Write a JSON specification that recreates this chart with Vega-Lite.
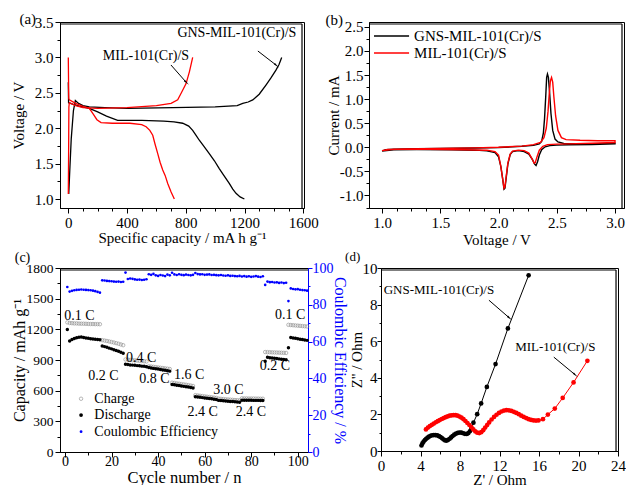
{
"$schema":"https://vega.github.io/schema/vega-lite/v6.json",
"padding":{"left":10,"top":11,"right":0,"bottom":0},
"config":{"font":"Liberation Serif","view":{"stroke":"#000","strokeWidth":1},
"axis":{"grid":false,"domainColor":"#000","tickColor":"#000","labelColor":"#000","titleColor":"#000","labelFont":"Liberation Serif","titleFont":"Liberation Serif","titleFontWeight":"normal","labelFontSize":15,"titleFontSize":15,"labelPadding":2,"labelFlush":false,"labelOverlap":false,"tickSize":5},
"text":{"font":"Liberation Serif"}},
"datasets":{
"a_cur":[
{"s":"GNS","g":"gd","x":0,"y":2.65},{"s":"GNS","g":"gd","x":2,"y":2.36},{"s":"GNS","g":"gd","x":30,"y":2.34},{"s":"GNS","g":"gd","x":80,"y":2.31},{"s":"GNS","g":"gd","x":143,"y":2.28},{"s":"GNS","g":"gd","x":200,"y":2.23},{"s":"GNS","g":"gd","x":260,"y":2.17},{"s":"GNS","g":"gd","x":336,"y":2.11},{"s":"GNS","g":"gd","x":500,"y":2.11},{"s":"GNS","g":"gd","x":650,"y":2.1},{"s":"GNS","g":"gd","x":720,"y":2.09},{"s":"GNS","g":"gd","x":779,"y":2.07},{"s":"GNS","g":"gd","x":820,"y":2.03},{"s":"GNS","g":"gd","x":847,"y":1.97},{"s":"GNS","g":"gd","x":870,"y":1.9},{"s":"GNS","g":"gd","x":892,"y":1.83},{"s":"GNS","g":"gd","x":925,"y":1.74},{"s":"GNS","g":"gd","x":960,"y":1.64},{"s":"GNS","g":"gd","x":995,"y":1.54},{"s":"GNS","g":"gd","x":1028,"y":1.43},{"s":"GNS","g":"gd","x":1060,"y":1.33},{"s":"GNS","g":"gd","x":1096,"y":1.22},{"s":"GNS","g":"gd","x":1120,"y":1.14},{"s":"GNS","g":"gd","x":1142,"y":1.08},{"s":"GNS","g":"gd","x":1170,"y":1.03},{"s":"GNS","g":"gd","x":1199,"y":1.0},
{"s":"GNS","g":"gc","x":3,"y":1.07},{"s":"GNS","g":"gc","x":10,"y":1.4},{"s":"GNS","g":"gc","x":20,"y":1.85},{"s":"GNS","g":"gc","x":35,"y":2.25},{"s":"GNS","g":"gc","x":48,"y":2.39},{"s":"GNS","g":"gc","x":70,"y":2.35},{"s":"GNS","g":"gc","x":100,"y":2.32},{"s":"GNS","g":"gc","x":143,"y":2.3},{"s":"GNS","g":"gc","x":250,"y":2.29},{"s":"GNS","g":"gc","x":400,"y":2.28},{"s":"GNS","g":"gc","x":711,"y":2.29},{"s":"GNS","g":"gc","x":1000,"y":2.3},{"s":"GNS","g":"gc","x":1150,"y":2.32},{"s":"GNS","g":"gc","x":1188,"y":2.35},{"s":"GNS","g":"gc","x":1225,"y":2.37},{"s":"GNS","g":"gc","x":1256,"y":2.4},{"s":"GNS","g":"gc","x":1300,"y":2.48},{"s":"GNS","g":"gc","x":1346,"y":2.61},{"s":"GNS","g":"gc","x":1380,"y":2.71},{"s":"GNS","g":"gc","x":1414,"y":2.82},{"s":"GNS","g":"gc","x":1435,"y":2.9},{"s":"GNS","g":"gc","x":1453,"y":3.0},
{"s":"MIL","g":"md","x":0,"y":3.0},{"s":"MIL","g":"md","x":3,"y":2.42},{"s":"MIL","g":"md","x":7,"y":2.4},{"s":"MIL","g":"md","x":50,"y":2.35},{"s":"MIL","g":"md","x":100,"y":2.31},{"s":"MIL","g":"md","x":143,"y":2.28},{"s":"MIL","g":"md","x":170,"y":2.2},{"s":"MIL","g":"md","x":195,"y":2.12},{"s":"MIL","g":"md","x":223,"y":2.08},{"s":"MIL","g":"md","x":300,"y":2.07},{"s":"MIL","g":"md","x":420,"y":2.07},{"s":"MIL","g":"md","x":500,"y":2.05},{"s":"MIL","g":"md","x":530,"y":2.02},{"s":"MIL","g":"md","x":555,"y":1.97},{"s":"MIL","g":"md","x":575,"y":1.9},{"s":"MIL","g":"md","x":590,"y":1.78},{"s":"MIL","g":"md","x":609,"y":1.64},{"s":"MIL","g":"md","x":625,"y":1.52},{"s":"MIL","g":"md","x":643,"y":1.41},{"s":"MIL","g":"md","x":660,"y":1.33},{"s":"MIL","g":"md","x":677,"y":1.22},{"s":"MIL","g":"md","x":700,"y":1.1},{"s":"MIL","g":"md","x":722,"y":1.0},
{"s":"MIL","g":"mc","x":0,"y":1.07},{"s":"MIL","g":"mc","x":2,"y":1.6},{"s":"MIL","g":"mc","x":4,"y":2.3},{"s":"MIL","g":"mc","x":7,"y":2.36},{"s":"MIL","g":"mc","x":50,"y":2.32},{"s":"MIL","g":"mc","x":100,"y":2.29},{"s":"MIL","g":"mc","x":200,"y":2.28},{"s":"MIL","g":"mc","x":400,"y":2.29},{"s":"MIL","g":"mc","x":600,"y":2.32},{"s":"MIL","g":"mc","x":700,"y":2.35},{"s":"MIL","g":"mc","x":745,"y":2.4},{"s":"MIL","g":"mc","x":770,"y":2.5},{"s":"MIL","g":"mc","x":802,"y":2.63},{"s":"MIL","g":"mc","x":825,"y":2.8},{"s":"MIL","g":"mc","x":847,"y":3.0}
],
"a_txt":[{"x":529,"y":3.02,"t":"MIL-101(Cr)/S"},{"x":1148,"y":3.345,"t":"GNS-MIL-101(Cr)/S"}],
"a_arr":[{"x":699,"y":2.893,"x2":801,"y2":2.653},{"x":1291,"y":3.09,"x2":1414,"y2":2.893}],
"a_lab":[{"x":-276,"y":3.548,"t":"(a)"}],
"a_frame":[{"x":-56.5,"x2":1591.4,"y":3.4718,"y2":3.4718},{"x":1591.4,"x2":1591.4,"y":0.873,"y2":3.4718}],
"b_cv":[
{"s":"GNS","x":1.0,"y":-0.08},{"s":"GNS","x":1.03,"y":-0.05},{"s":"GNS","x":1.1,"y":-0.04},{"s":"GNS","x":1.3,"y":-0.03},{"s":"GNS","x":1.5,"y":-0.025},{"s":"GNS","x":1.8,"y":-0.015},{"s":"GNS","x":2.0,"y":-0.005},{"s":"GNS","x":2.2,"y":0.02},{"s":"GNS","x":2.3,"y":0.04},{"s":"GNS","x":2.35,"y":0.07},{"s":"GNS","x":2.37,"y":0.12},{"s":"GNS","x":2.385,"y":0.3},{"s":"GNS","x":2.395,"y":0.6},{"s":"GNS","x":2.405,"y":1.05},{"s":"GNS","x":2.413,"y":1.45},{"s":"GNS","x":2.42,"y":1.52},{"s":"GNS","x":2.428,"y":1.45},{"s":"GNS","x":2.438,"y":1.15},{"s":"GNS","x":2.45,"y":0.7},{"s":"GNS","x":2.465,"y":0.35},{"s":"GNS","x":2.485,"y":0.17},{"s":"GNS","x":2.51,"y":0.11},{"s":"GNS","x":2.56,"y":0.08},{"s":"GNS","x":2.7,"y":0.075},{"s":"GNS","x":2.85,"y":0.075},{"s":"GNS","x":3.0,"y":0.085},
{"s":"GNS","x":3.0,"y":0.07},{"s":"GNS","x":2.8,"y":0.055},{"s":"GNS","x":2.6,"y":0.05},{"s":"GNS","x":2.5,"y":0.045},{"s":"GNS","x":2.44,"y":0.035},{"s":"GNS","x":2.4,"y":0.01},{"s":"GNS","x":2.37,"y":-0.05},{"s":"GNS","x":2.35,"y":-0.16},{"s":"GNS","x":2.335,"y":-0.3},{"s":"GNS","x":2.322,"y":-0.38},{"s":"GNS","x":2.31,"y":-0.35},{"s":"GNS","x":2.29,"y":-0.25},{"s":"GNS","x":2.26,"y":-0.14},{"s":"GNS","x":2.22,"y":-0.09},{"s":"GNS","x":2.17,"y":-0.07},{"s":"GNS","x":2.12,"y":-0.09},{"s":"GNS","x":2.1,"y":-0.15},{"s":"GNS","x":2.08,"y":-0.35},{"s":"GNS","x":2.065,"y":-0.65},{"s":"GNS","x":2.055,"y":-0.85},{"s":"GNS","x":2.047,"y":-0.87},{"s":"GNS","x":2.037,"y":-0.68},{"s":"GNS","x":2.02,"y":-0.4},{"s":"GNS","x":2.0,"y":-0.2},{"s":"GNS","x":1.97,"y":-0.11},{"s":"GNS","x":1.9,"y":-0.075},{"s":"GNS","x":1.8,"y":-0.06},{"s":"GNS","x":1.6,"y":-0.05},{"s":"GNS","x":1.3,"y":-0.045},{"s":"GNS","x":1.1,"y":-0.05},{"s":"GNS","x":1.0,"y":-0.08},
{"s":"MIL","x":1.0,"y":-0.07},{"s":"MIL","x":1.05,"y":-0.045},{"s":"MIL","x":1.2,"y":-0.035},{"s":"MIL","x":1.5,"y":-0.025},{"s":"MIL","x":1.8,"y":-0.012},{"s":"MIL","x":2.0,"y":0.0},{"s":"MIL","x":2.2,"y":0.025},{"s":"MIL","x":2.3,"y":0.055},{"s":"MIL","x":2.36,"y":0.1},{"s":"MIL","x":2.39,"y":0.2},{"s":"MIL","x":2.41,"y":0.4},{"s":"MIL","x":2.425,"y":0.75},{"s":"MIL","x":2.435,"y":1.1},{"s":"MIL","x":2.445,"y":1.38},{"s":"MIL","x":2.455,"y":1.45},{"s":"MIL","x":2.465,"y":1.35},{"s":"MIL","x":2.475,"y":1.05},{"s":"MIL","x":2.49,"y":0.65},{"s":"MIL","x":2.51,"y":0.35},{"s":"MIL","x":2.54,"y":0.2},{"s":"MIL","x":2.58,"y":0.16},{"s":"MIL","x":2.7,"y":0.145},{"s":"MIL","x":2.85,"y":0.135},{"s":"MIL","x":3.0,"y":0.135},
{"s":"MIL","x":3.0,"y":0.1},{"s":"MIL","x":2.8,"y":0.085},{"s":"MIL","x":2.6,"y":0.07},{"s":"MIL","x":2.5,"y":0.065},{"s":"MIL","x":2.42,"y":0.055},{"s":"MIL","x":2.38,"y":0.02},{"s":"MIL","x":2.35,"y":-0.06},{"s":"MIL","x":2.33,"y":-0.2},{"s":"MIL","x":2.315,"y":-0.32},{"s":"MIL","x":2.305,"y":-0.33},{"s":"MIL","x":2.29,"y":-0.25},{"s":"MIL","x":2.26,"y":-0.12},{"s":"MIL","x":2.22,"y":-0.07},{"s":"MIL","x":2.17,"y":-0.06},{"s":"MIL","x":2.12,"y":-0.08},{"s":"MIL","x":2.1,"y":-0.14},{"s":"MIL","x":2.08,"y":-0.33},{"s":"MIL","x":2.065,"y":-0.62},{"s":"MIL","x":2.055,"y":-0.82},{"s":"MIL","x":2.047,"y":-0.85},{"s":"MIL","x":2.037,"y":-0.68},{"s":"MIL","x":2.02,"y":-0.4},{"s":"MIL","x":2.0,"y":-0.16},{"s":"MIL","x":1.97,"y":-0.09},{"s":"MIL","x":1.9,"y":-0.06},{"s":"MIL","x":1.7,"y":-0.05},{"s":"MIL","x":1.4,"y":-0.04},{"s":"MIL","x":1.1,"y":-0.04},{"s":"MIL","x":1.0,"y":-0.07}
],
"b_leg":[{"s":"GNS","x":0.931,"x2":1.232,"y":2.31,"tx":1.275,"t":"GNS-MIL-101(Cr)/S"},{"s":"MIL","x":0.931,"x2":1.232,"y":1.957,"tx":1.275,"t":"MIL-101(Cr)/S"}],
"b_lab":[{"x":0.59,"y":2.64,"t":"(b)"}],
"b_frame":[{"x":0.888,"x2":3.0598,"y":2.5585,"y2":2.5585},{"x":3.0598,"x2":3.0598,"y":-1.26,"y2":2.5585}],
"c_cyc":[
{"n":1,"ch":1268,"dc":1198,"ce":89.7},{"n":2,"ch":1262,"dc":1085,"ce":87.2},{"n":3,"ch":1260,"dc":1100,"ce":87.6},{"n":4,"ch":1258,"dc":1110,"ce":87.9},{"n":5,"ch":1258,"dc":1118,"ce":88.1},{"n":6,"ch":1256,"dc":1122,"ce":88.2},{"n":7,"ch":1255,"dc":1124,"ce":88.3},{"n":8,"ch":1255,"dc":1120,"ce":88.2},{"n":9,"ch":1254,"dc":1116,"ce":88.1},{"n":10,"ch":1253,"dc":1112,"ce":88.0},{"n":11,"ch":1252,"dc":1108,"ce":87.9},{"n":12,"ch":1252,"dc":1106,"ce":87.7},{"n":13,"ch":1251,"dc":1104,"ce":87.4},{"n":14,"ch":1251,"dc":1101,"ce":87.0},{"n":15,"ch":1250,"dc":1098,"ce":86.6},
{"n":16,"ch":1094,"dc":1038,"ce":93.3},{"n":17,"ch":1090,"dc":1031,"ce":93.2},{"n":18,"ch":1086,"dc":1024,"ce":93.0},{"n":19,"ch":1081,"dc":1016,"ce":92.9},{"n":20,"ch":1076,"dc":1009,"ce":92.8},{"n":21,"ch":1071,"dc":1001,"ce":92.6},{"n":22,"ch":1065,"dc":993,"ce":92.5},{"n":23,"ch":1059,"dc":985,"ce":92.6},{"n":24,"ch":1052,"dc":976,"ce":92.4},{"n":25,"ch":1045,"dc":966,"ce":92.5},
{"n":26,"ch":905,"dc":858,"ce":97.5},{"n":27,"ch":903,"dc":855,"ce":94.0},{"n":28,"ch":901,"dc":852,"ce":94.3},{"n":29,"ch":899,"dc":850,"ce":94.1},{"n":30,"ch":897,"dc":848,"ce":93.8},{"n":31,"ch":895,"dc":845,"ce":93.6},{"n":32,"ch":892,"dc":843,"ce":93.7},{"n":33,"ch":890,"dc":840,"ce":93.5},{"n":34,"ch":888,"dc":838,"ce":93.6},{"n":35,"ch":886,"dc":835,"ce":93.9},
{"n":36,"ch":838,"dc":826,"ce":96.6},{"n":37,"ch":836,"dc":822,"ce":96.3},{"n":38,"ch":833,"dc":818,"ce":96.8},{"n":39,"ch":830,"dc":815,"ce":96.0},{"n":40,"ch":827,"dc":811,"ce":95.7},{"n":41,"ch":824,"dc":807,"ce":96.2},{"n":42,"ch":821,"dc":803,"ce":95.9},{"n":43,"ch":818,"dc":799,"ce":95.6},{"n":44,"ch":815,"dc":795,"ce":96.4},{"n":45,"ch":812,"dc":791,"ce":96.0},
{"n":46,"ch":678,"dc":660,"ce":97.4},{"n":47,"ch":675,"dc":657,"ce":96.5},{"n":48,"ch":671,"dc":653,"ce":96.2},{"n":49,"ch":668,"dc":650,"ce":96.6},{"n":50,"ch":664,"dc":646,"ce":96.3},{"n":51,"ch":661,"dc":642,"ce":96.1},{"n":52,"ch":658,"dc":639,"ce":96.4},{"n":53,"ch":654,"dc":635,"ce":96.2},{"n":54,"ch":650,"dc":631,"ce":96.0},{"n":55,"ch":646,"dc":627,"ce":96.3},
{"n":56,"ch":556,"dc":540,"ce":97.3},{"n":57,"ch":553,"dc":538,"ce":96.7},{"n":58,"ch":550,"dc":535,"ce":96.5},{"n":59,"ch":547,"dc":532,"ce":96.6},{"n":60,"ch":544,"dc":529,"ce":96.3},{"n":61,"ch":541,"dc":526,"ce":96.4},{"n":62,"ch":538,"dc":523,"ce":96.5},{"n":63,"ch":535,"dc":520,"ce":96.2},{"n":64,"ch":532,"dc":517,"ce":96.3},{"n":65,"ch":529,"dc":514,"ce":96.1},
{"n":66,"ch":522,"dc":505,"ce":96.0},{"n":67,"ch":520,"dc":503,"ce":96.2},{"n":68,"ch":518,"dc":501,"ce":95.9},{"n":69,"ch":516,"dc":499,"ce":95.8},{"n":70,"ch":514,"dc":497,"ce":96.0},{"n":71,"ch":512,"dc":495,"ce":95.7},{"n":72,"ch":510,"dc":493,"ce":95.8},{"n":73,"ch":508,"dc":491,"ce":95.6},{"n":74,"ch":507,"dc":489,"ce":95.5},{"n":75,"ch":505,"dc":487,"ce":95.7},
{"n":76,"ch":525,"dc":507,"ce":95.4},{"n":77,"ch":524,"dc":507,"ce":95.6},{"n":78,"ch":524,"dc":506,"ce":95.3},{"n":79,"ch":523,"dc":506,"ce":95.5},{"n":80,"ch":523,"dc":506,"ce":95.2},{"n":81,"ch":523,"dc":505,"ce":95.4},{"n":82,"ch":522,"dc":505,"ce":95.6},{"n":83,"ch":522,"dc":505,"ce":95.3},{"n":84,"ch":521,"dc":504,"ce":95.1},{"n":85,"ch":521,"dc":504,"ce":95.5},
{"n":86,"ch":978,"dc":888,"ce":90.8},{"n":87,"ch":977,"dc":926,"ce":92.6},{"n":88,"ch":976,"dc":923,"ce":92.3},{"n":89,"ch":975,"dc":920,"ce":92.4},{"n":90,"ch":974,"dc":917,"ce":92.1},{"n":91,"ch":973,"dc":914,"ce":92.2},{"n":92,"ch":972,"dc":911,"ce":91.9},{"n":93,"ch":971,"dc":908,"ce":92.1},{"n":94,"ch":970,"dc":905,"ce":91.8},{"n":95,"ch":969,"dc":902,"ce":92.0},
{"n":96,"ch":1244,"dc":1020,"ce":82.0},{"n":97,"ch":1242,"dc":1120,"ce":88.9},{"n":98,"ch":1240,"dc":1116,"ce":88.6},{"n":99,"ch":1238,"dc":1112,"ce":88.4},{"n":100,"ch":1236,"dc":1108,"ce":88.5},{"n":101,"ch":1234,"dc":1104,"ce":88.2},{"n":102,"ch":1232,"dc":1100,"ce":88.0},{"n":103,"ch":1230,"dc":1096,"ce":87.9},{"n":104,"ch":1228,"dc":1092,"ce":87.7}
],
"c_rate":[{"x":6.2,"y":1334,"t":"0.1 C"},{"x":16.5,"y":742,"t":"0.2 C"},{"x":32.7,"y":921,"t":"0.4 C"},{"x":38.4,"y":710,"t":"0.8 C"},{"x":53.4,"y":758,"t":"1.6 C"},{"x":70.2,"y":602,"t":"3.0 C"},{"x":59.2,"y":394,"t":"2.4 C"},{"x":79.9,"y":394,"t":"2.4 C"},{"x":90.2,"y":839,"t":"0.2 C"},{"x":96.7,"y":1344,"t":"0.1 C"}],
"c_legsym":[{"x":6.9,"y":521,"k":"c"},{"x":6.9,"y":361,"k":"d"},{"x":6.9,"y":199,"k":"e"}],
"c_legtxt":[{"x":12.6,"y":521,"t":"Charge"},{"x":12.6,"y":361,"t":"Discharge"},{"x":12.6,"y":199,"t":"Coulombic Efficiency"},{"x":-21.6,"y":1895,"t":"(c)"}],
"c_frame":[{"x":-2.15,"x2":104.4,"y":1780.4}],
"d_eis":[
{"s":"GNS","x":4.10,"y":0.30},{"s":"GNS","x":4.20,"y":0.42},{"s":"GNS","x":4.32,"y":0.52},{"s":"GNS","x":4.45,"y":0.60},{"s":"GNS","x":4.58,"y":0.67},{"s":"GNS","x":4.72,"y":0.73},{"s":"GNS","x":4.87,"y":0.79},{"s":"GNS","x":5.02,"y":0.83},{"s":"GNS","x":5.18,"y":0.86},{"s":"GNS","x":5.35,"y":0.87},{"s":"GNS","x":5.52,"y":0.87},{"s":"GNS","x":5.70,"y":0.85},{"s":"GNS","x":5.87,"y":0.81},{"s":"GNS","x":6.03,"y":0.76},{"s":"GNS","x":6.20,"y":0.69},{"s":"GNS","x":6.35,"y":0.63},{"s":"GNS","x":6.50,"y":0.58},{"s":"GNS","x":6.65,"y":0.57},{"s":"GNS","x":6.80,"y":0.61},{"s":"GNS","x":6.95,"y":0.67},{"s":"GNS","x":7.10,"y":0.74},{"s":"GNS","x":7.25,"y":0.82},{"s":"GNS","x":7.42,"y":0.89},{"s":"GNS","x":7.60,"y":0.95},{"s":"GNS","x":7.78,"y":0.99},{"s":"GNS","x":7.96,"y":1.01},{"s":"GNS","x":8.14,"y":1.00},{"s":"GNS","x":8.32,"y":0.97},{"s":"GNS","x":8.50,"y":0.94},{"s":"GNS","x":8.68,"y":0.93},{"s":"GNS","x":8.85,"y":0.98},{"s":"GNS","x":9.00,"y":1.08},{"s":"GNS","x":9.15,"y":1.25},{"s":"GNS","x":9.36,"y":1.55},{"s":"GNS","x":9.74,"y":2.01},{"s":"GNS","x":10.14,"y":2.6},{"s":"GNS","x":10.72,"y":3.5},{"s":"GNS","x":11.6,"y":4.75},{"s":"GNS","x":12.85,"y":6.7},{"s":"GNS","x":14.95,"y":9.6},
{"s":"MIL","x":4.55,"y":1.18},{"s":"MIL","x":4.75,"y":1.28},{"s":"MIL","x":4.95,"y":1.36},{"s":"MIL","x":5.15,"y":1.43},{"s":"MIL","x":5.35,"y":1.50},{"s":"MIL","x":5.55,"y":1.57},{"s":"MIL","x":5.75,"y":1.63},{"s":"MIL","x":5.95,"y":1.69},{"s":"MIL","x":6.15,"y":1.75},{"s":"MIL","x":6.35,"y":1.80},{"s":"MIL","x":6.55,"y":1.85},{"s":"MIL","x":6.75,"y":1.89},{"s":"MIL","x":6.95,"y":1.93},{"s":"MIL","x":7.15,"y":1.95},{"s":"MIL","x":7.35,"y":1.96},{"s":"MIL","x":7.55,"y":1.96},{"s":"MIL","x":7.75,"y":1.93},{"s":"MIL","x":7.95,"y":1.88},{"s":"MIL","x":8.15,"y":1.82},{"s":"MIL","x":8.35,"y":1.74},{"s":"MIL","x":8.55,"y":1.64},{"s":"MIL","x":8.75,"y":1.53},{"s":"MIL","x":8.95,"y":1.42},{"s":"MIL","x":9.15,"y":1.30},{"s":"MIL","x":9.35,"y":1.18},{"s":"MIL","x":9.55,"y":1.07},{"s":"MIL","x":9.75,"y":1.00},{"s":"MIL","x":9.95,"y":0.98},{"s":"MIL","x":10.15,"y":1.03},{"s":"MIL","x":10.35,"y":1.14},{"s":"MIL","x":10.55,"y":1.28},{"s":"MIL","x":10.75,"y":1.42},{"s":"MIL","x":10.95,"y":1.56},{"s":"MIL","x":11.2,"y":1.72},{"s":"MIL","x":11.45,"y":1.86},{"s":"MIL","x":11.7,"y":1.98},{"s":"MIL","x":11.95,"y":2.08},{"s":"MIL","x":12.2,"y":2.16},{"s":"MIL","x":12.45,"y":2.21},{"s":"MIL","x":12.7,"y":2.23},{"s":"MIL","x":12.95,"y":2.22},{"s":"MIL","x":13.2,"y":2.19},{"s":"MIL","x":13.45,"y":2.14},{"s":"MIL","x":13.7,"y":2.08},{"s":"MIL","x":13.95,"y":2.01},{"s":"MIL","x":14.2,"y":1.93},{"s":"MIL","x":14.45,"y":1.86},{"s":"MIL","x":14.7,"y":1.80},{"s":"MIL","x":14.95,"y":1.74},{"s":"MIL","x":15.2,"y":1.70},{"s":"MIL","x":15.45,"y":1.67},{"s":"MIL","x":15.7,"y":1.66},{"s":"MIL","x":15.95,"y":1.67},{"s":"MIL","x":16.4,"y":1.74},{"s":"MIL","x":16.9,"y":1.99},{"s":"MIL","x":17.6,"y":2.32},{"s":"MIL","x":18.4,"y":2.9},{"s":"MIL","x":19.5,"y":3.75},{"s":"MIL","x":20.9,"y":4.93}
],
"d_txt":[{"x":5.87,"y":8.79,"t":"GNS-MIL-101(Cr)/S"},{"x":17.65,"y":5.68,"t":"MIL-101(Cr)/S"},{"x":-2.87,"y":10.62,"t":"(d)"}],
"d_arr":[{"x":10.93,"y":8.24,"x2":12.96,"y2":7.29},{"x":17.5,"y":5.13,"x2":19.63,"y2":4.18}],
"d_frame":[{"x":0,"x2":23.8,"y":9.891,"y2":9.891},{"x":23.8,"x2":23.8,"y":0,"y2":9.891}]
},
"vconcat":[
{"hconcat":[
{"width":244,"height":186,
"layer":[
{"data":{"name":"a_cur"},"transform":[{"window":[{"op":"row_number","as":"i"}]}],
"mark":{"type":"line","strokeWidth":1.3},
"encoding":{
"x":{"field":"x","type":"quantitative","scale":{"domain":[-56.5,1605],"nice":false,"zero":false},
"axis":{"title":"Specific capacity / mA h g⁻¹","format":"d","tickCount":100,"values":[0,100,200,300,400,500,600,700,800,900,1000,1100,1200,1300,1400,1500,1600],"labelExpr":"datum.value % 400 === 0 ? datum.label : ''","labelFontSize":{"condition":{"test":"datum.value % 400 === 0","value":15},"value":0},"tickSize":{"condition":{"test":"datum.value % 400 === 0","value":5},"value":3},"titlePadding":0}},
"y":{"field":"y","type":"quantitative","scale":{"domain":[0.873,3.5],"nice":false,"zero":false},
"axis":{"title":"Voltage / V","format":".1f","tickCount":100,"values":[1,1.25,1.5,1.75,2,2.25,2.5,2.75,3,3.25,3.5],"labelExpr":"datum.value * 2 % 1 === 0 ? datum.label : ''","labelFontSize":{"condition":{"test":"datum.value * 2 % 1 === 0","value":15},"value":0},"tickSize":{"condition":{"test":"datum.value * 2 % 1 === 0","value":5},"value":3},"titlePadding":8}},
"color":{"field":"s","type":"nominal","scale":{"domain":["GNS","MIL"],"range":["#000000","#ff0000"]},"legend":null},
"detail":{"field":"g"},
"order":{"field":"i","type":"quantitative"}}},
{"data":{"name":"a_frame"},"mark":{"type":"rule","color":"#000","strokeWidth":1.2},"encoding":{"x":{"field":"x","type":"quantitative"},"y":{"field":"y","type":"quantitative"},"x2":{"field":"x2"},"y2":{"field":"y2"}}},
{"data":{"name":"a_txt"},"mark":{"type":"text","fontSize":14,"align":"center","baseline":"middle"},"encoding":{"x":{"field":"x","type":"quantitative"},"y":{"field":"y","type":"quantitative"},"text":{"field":"t"}}},
{"data":{"name":"a_arr"},"mark":{"type":"rule","color":"#000","strokeWidth":1},"encoding":{"x":{"field":"x","type":"quantitative"},"y":{"field":"y","type":"quantitative"},"x2":{"field":"x2"},"y2":{"field":"y2"}}},
{"data":{"name":"a_arr"},"mark":{"type":"point","shape":"wedge","filled":true,"color":"#000","opacity":1,"size":50,"angle":132},"encoding":{"x":{"field":"x2","type":"quantitative"},"y":{"field":"y2","type":"quantitative"}}},
{"data":{"name":"a_lab"},"mark":{"type":"text","fontSize":15,"align":"center","baseline":"middle"},"encoding":{"x":{"field":"x","type":"quantitative"},"y":{"field":"y","type":"quantitative"},"text":{"field":"t"}}}
]},
{"width":255,"height":186,
"layer":[
{"data":{"name":"b_cv"},"transform":[{"window":[{"op":"row_number","as":"i"}]}],
"mark":{"type":"line","strokeWidth":1.4},
"encoding":{
"x":{"field":"x","type":"quantitative","scale":{"domain":[0.888,3.077],"nice":false,"zero":false},
"axis":{"title":"Voltage / V","format":".1f","tickCount":100,"values":[1,1.125,1.25,1.375,1.5,1.625,1.75,1.875,2,2.125,2.25,2.375,2.5,2.625,2.75,2.875,3],"labelExpr":"datum.value * 2 % 1 === 0 ? datum.label : ''","labelFontSize":{"condition":{"test":"datum.value * 2 % 1 === 0","value":15},"value":0},"tickSize":{"condition":{"test":"datum.value * 2 % 1 === 0","value":5},"value":3},"titlePadding":2}},
"y":{"field":"y","type":"quantitative","scale":{"domain":[-1.26,2.6],"nice":false,"zero":false},
"axis":{"title":"Current / mA","format":".1f","tickCount":100,"labelPadding":1,"values":[-1.25,-1,-0.75,-0.5,-0.25,0,0.25,0.5,0.75,1,1.25,1.5,1.75,2,2.25,2.5],"labelExpr":"datum.value * 2 % 1 === 0 ? replace(datum.label, '−', '-') : ''","labelFontSize":{"condition":{"test":"datum.value * 2 % 1 === 0","value":15},"value":0},"tickSize":{"condition":{"test":"datum.value * 2 % 1 === 0","value":5},"value":3},"titlePadding":-2}},
"color":{"field":"s","type":"nominal","scale":{"domain":["GNS","MIL"],"range":["#000000","#ff0000"]},"legend":null},
"order":{"field":"i","type":"quantitative"}}},
{"data":{"name":"b_frame"},"mark":{"type":"rule","color":"#000","strokeWidth":1.2},"encoding":{"x":{"field":"x","type":"quantitative"},"y":{"field":"y","type":"quantitative"},"x2":{"field":"x2"},"y2":{"field":"y2"}}},
{"data":{"name":"b_leg"},"mark":{"type":"rule","strokeWidth":1.4},"encoding":{"x":{"field":"x","type":"quantitative"},"x2":{"field":"x2"},"y":{"field":"y","type":"quantitative"},"color":{"field":"s","type":"nominal","scale":{"domain":["GNS","MIL"],"range":["#000000","#ff0000"]},"legend":null}}},
{"data":{"name":"b_leg"},"mark":{"type":"text","fontSize":15,"align":"left","baseline":"middle","color":"#000"},"encoding":{"x":{"field":"tx","type":"quantitative"},"y":{"field":"y","type":"quantitative"},"text":{"field":"t"}}},
{"data":{"name":"b_lab"},"mark":{"type":"text","fontSize":15,"align":"center","baseline":"middle"},"encoding":{"x":{"field":"x","type":"quantitative"},"y":{"field":"y","type":"quantitative"},"text":{"field":"t"}}}
]}
],"spacing":65,"bounds":"flush"},
{"hconcat":[
{"width":248,"height":184,
"layer":[
{"layer":[
{"data":{"name":"c_cyc"},"mark":{"type":"point","shape":"circle","filled":false,"color":"#808080","size":12,"strokeWidth":0.8},
"encoding":{
"x":{"field":"n","type":"quantitative","scale":{"domain":[-2.15,104.4],"nice":false,"zero":false},
"axis":{"title":"Cycle number / n","titleFontSize":16.5,"format":"d","tickCount":100,"labelPadding":-3,"values":[0,10,20,30,40,50,60,70,80,90,100],"labelExpr":"datum.value % 20 === 0 ? datum.label : ''","labelFontSize":{"condition":{"test":"datum.value % 20 === 0","value":14},"value":0},"tickSize":{"condition":{"test":"datum.value % 20 === 0","value":5},"value":3},"titlePadding":1}},
"y":{"field":"ch","type":"quantitative","scale":{"domain":[0,1800],"nice":false,"zero":false},
"axis":{"title":"Capacity / mAh g⁻¹","titleFontSize":16,"format":"d","tickCount":100,"values":[0,150,300,450,600,750,900,1050,1200,1350,1500,1650,1800],"labelExpr":"datum.value % 300 === 0 ? datum.label : ''","labelFontSize":{"condition":{"test":"datum.value % 300 === 0","value":13.5},"value":0},"tickSize":{"condition":{"test":"datum.value % 300 === 0","value":5},"value":3},"titlePadding":-1}}}},
{"data":{"name":"c_frame"},"mark":{"type":"rule","color":"#000","strokeWidth":1.2},"encoding":{"x":{"field":"x","type":"quantitative"},"x2":{"field":"x2"},"y":{"field":"y","type":"quantitative"}}},
{"data":{"name":"c_cyc"},"mark":{"type":"point","shape":"circle","filled":true,"color":"#000","opacity":1,"size":12},
"encoding":{"x":{"field":"n","type":"quantitative"},"y":{"field":"dc","type":"quantitative"}}},
{"data":{"name":"c_rate"},"mark":{"type":"text","fontSize":14,"align":"center","baseline":"middle"},"encoding":{"x":{"field":"x","type":"quantitative"},"y":{"field":"y","type":"quantitative"},"text":{"field":"t"}}},
{"data":{"name":"c_legsym"},"transform":[{"filter":"datum.k === 'c'"}],"mark":{"type":"point","shape":"circle","filled":false,"color":"#808080","size":12,"strokeWidth":0.8},"encoding":{"x":{"field":"x","type":"quantitative"},"y":{"field":"y","type":"quantitative"}}},
{"data":{"name":"c_legsym"},"transform":[{"filter":"datum.k === 'd'"}],"mark":{"type":"point","shape":"circle","filled":true,"color":"#000","opacity":1,"size":14},"encoding":{"x":{"field":"x","type":"quantitative"},"y":{"field":"y","type":"quantitative"}}},
{"data":{"name":"c_legsym"},"transform":[{"filter":"datum.k === 'e'"}],"mark":{"type":"point","shape":"circle","filled":true,"color":"#0000ff","opacity":1,"size":8},"encoding":{"x":{"field":"x","type":"quantitative"},"y":{"field":"y","type":"quantitative"}}},
{"data":{"name":"c_legtxt"},"mark":{"type":"text","fontSize":14,"align":"left","baseline":"middle"},"encoding":{"x":{"field":"x","type":"quantitative"},"y":{"field":"y","type":"quantitative"},"text":{"field":"t"}}}
]},
{"data":{"name":"c_cyc"},"mark":{"type":"point","shape":"circle","filled":true,"color":"#0000ff","opacity":1,"size":7},
"encoding":{"x":{"field":"n","type":"quantitative"},
"y":{"field":"ce","type":"quantitative","scale":{"domain":[0,100],"nice":false,"zero":false},
"axis":{"orient":"right","title":"Coulombic Efficiency / %","titleFontSize":16,"format":"d","labelPadding":0,"tickCount":100,"domainColor":"#0000ff","tickColor":"#0000ff","labelColor":"#0000ff","titleColor":"#0000ff","values":[0,10,20,30,40,50,60,70,80,90,100],"labelExpr":"datum.value % 20 === 0 ? datum.label : ''","labelFontSize":{"condition":{"test":"datum.value % 20 === 0","value":14},"value":0},"tickSize":{"condition":{"test":"datum.value % 20 === 0","value":4},"value":2},"titlePadding":-2}}}}
],
"resolve":{"scale":{"y":"independent"}}},
{"width":237,"height":183,
"layer":[
{"data":{"name":"d_eis"},"mark":{"type":"line","strokeWidth":1,"point":{"filled":true,"size":22}},
"encoding":{
"x":{"field":"x","type":"quantitative","scale":{"domain":[0,24],"nice":false,"zero":false},
"axis":{"title":"Z' / Ohm","format":"d","tickCount":100,"values":[0,2,4,6,8,10,12,14,16,18,20,22,24],"labelExpr":"datum.value % 4 === 0 ? datum.label : ''","labelFontSize":{"condition":{"test":"datum.value % 4 === 0","value":15},"value":0},"tickSize":{"condition":{"test":"datum.value % 4 === 0","value":5},"value":3},"titlePadding":-1}},
"y":{"field":"y","type":"quantitative","scale":{"domain":[0,10],"nice":false,"zero":false},
"axis":{"title":"Z'' / Ohm","format":"d","labelPadding":0,"tickCount":100,"values":[0,1,2,3,4,5,6,7,8,9,10],"labelExpr":"datum.value % 2 === 0 ? datum.label : ''","labelFontSize":{"condition":{"test":"datum.value % 2 === 0","value":15},"value":0},"tickSize":{"condition":{"test":"datum.value % 2 === 0","value":4},"value":2},"titlePadding":-2}},
"color":{"field":"s","type":"nominal","scale":{"domain":["GNS","MIL"],"range":["#000000","#ff0000"]},"legend":null}}},
{"data":{"name":"d_frame"},"mark":{"type":"rule","color":"#000","strokeWidth":1.2},"encoding":{"x":{"field":"x","type":"quantitative"},"y":{"field":"y","type":"quantitative"},"x2":{"field":"x2"},"y2":{"field":"y2"}}},
{"data":{"name":"d_txt"},"mark":{"type":"text","fontSize":13,"align":"center","baseline":"middle"},"encoding":{"x":{"field":"x","type":"quantitative"},"y":{"field":"y","type":"quantitative"},"text":{"field":"t"}}},
{"data":{"name":"d_arr"},"mark":{"type":"rule","color":"#000","strokeWidth":1},"encoding":{"x":{"field":"x","type":"quantitative"},"y":{"field":"y","type":"quantitative"},"x2":{"field":"x2"},"y2":{"field":"y2"}}},
{"data":{"name":"d_arr"},"mark":{"type":"point","shape":"wedge","filled":true,"color":"#000","opacity":1,"size":50,"angle":130},"encoding":{"x":{"field":"x2","type":"quantitative"},"y":{"field":"y2","type":"quantitative"}}}
]}
],"spacing":73,"bounds":"flush"}
],
"spacing":2,"bounds":"full"
}
